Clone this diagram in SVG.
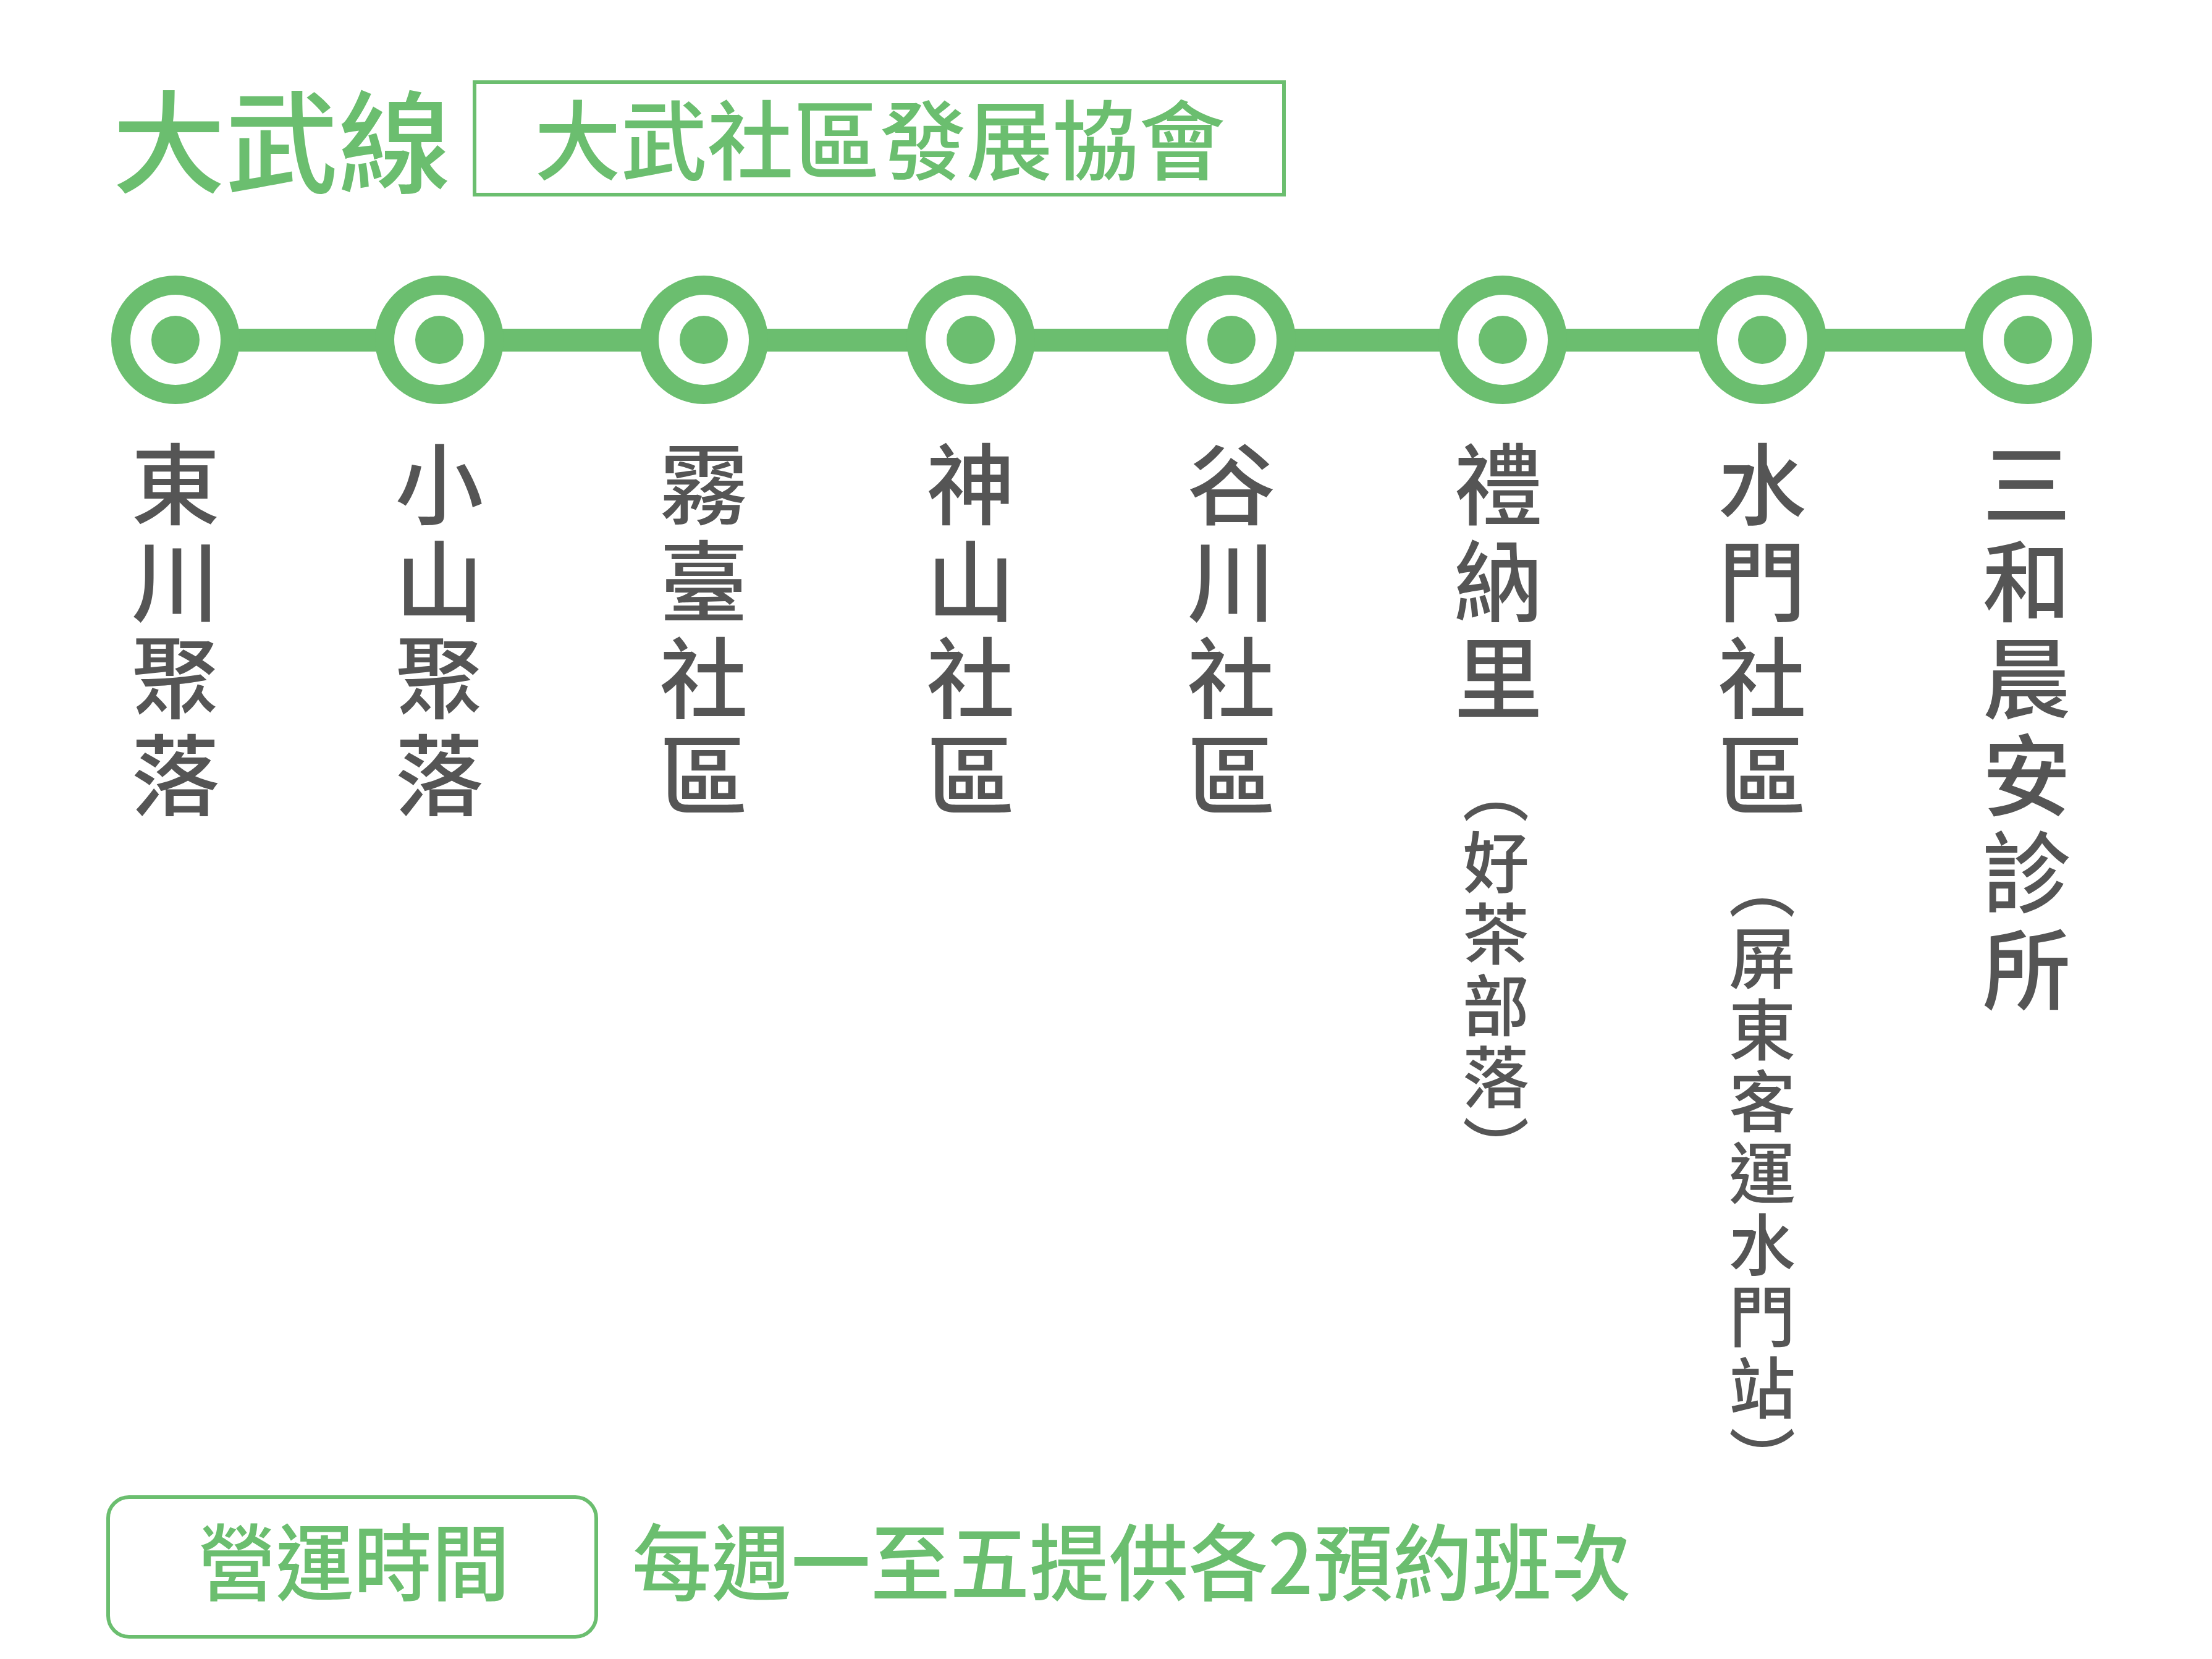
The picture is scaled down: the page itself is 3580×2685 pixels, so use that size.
<svg xmlns="http://www.w3.org/2000/svg" width="3580" height="2685" viewBox="0 0 3580 2685">
<style>
.g{fill:#6bbe6f;font-family:"Noto Sans CJK TC","Noto Sans CJK SC",sans-serif;font-weight:500}
.lab{fill:#555;font-family:"Noto Sans CJK TC","Noto Sans CJK SC",sans-serif;font-weight:500;font-size:143px;writing-mode:vertical-rl;letter-spacing:14px}
.sub{fill:#555;font-family:"Noto Sans CJK TC","Noto Sans CJK SC",sans-serif;font-weight:500;font-size:108px;writing-mode:vertical-rl;letter-spacing:8px}
.ring{fill:#6bbe6f}
.hole{fill:#fff}
</style>
<rect width="3580" height="2685" fill="#fff"/>
<g id="title">
<text class="g" x="182" y="298" font-size="180" textLength="548" lengthAdjust="spacingAndGlyphs">大武線</text>
<rect x="768" y="133" width="1310" height="182" fill="none" stroke="#6bbe6f" stroke-width="6"/>
<text class="g" x="865" y="280" font-size="140" textLength="1118" lengthAdjust="spacingAndGlyphs">大武社區發展協會</text>
</g>
<g id="connectors">
<rect x="284" y="532" width="2998" height="37" fill="#6bbe6f"/>
</g>
<g id="stations">
<g id="s1"><circle class="ring" cx="284" cy="550" r="104"/><circle class="hole" cx="284" cy="550" r="73"/><circle class="ring" cx="284" cy="550" r="39"/><text class="lab" x="284" y="712">東川聚落</text></g>
<g id="s2"><circle class="ring" cx="711" cy="550" r="104"/><circle class="hole" cx="711" cy="550" r="73"/><circle class="ring" cx="711" cy="550" r="39"/><text class="lab" x="711" y="712">小山聚落</text></g>
<g id="s3"><circle class="ring" cx="1139" cy="550" r="104"/><circle class="hole" cx="1139" cy="550" r="73"/><circle class="ring" cx="1139" cy="550" r="39"/><text class="lab" x="1139" y="712">霧臺社區</text></g>
<g id="s4"><circle class="ring" cx="1571" cy="550" r="104"/><circle class="hole" cx="1571" cy="550" r="73"/><circle class="ring" cx="1571" cy="550" r="39"/><text class="lab" x="1571" y="712">神山社區</text></g>
<g id="s5"><circle class="ring" cx="1993" cy="550" r="104"/><circle class="hole" cx="1993" cy="550" r="73"/><circle class="ring" cx="1993" cy="550" r="39"/><text class="lab" x="1993" y="712">谷川社區</text></g>
<g id="s6"><circle class="ring" cx="2432" cy="550" r="104"/><circle class="hole" cx="2432" cy="550" r="73"/><circle class="ring" cx="2432" cy="550" r="39"/><text class="lab" x="2425" y="712">禮納里</text><text class="sub" x="2421" y="1225">（好茶部落）</text></g>
<g id="s7"><circle class="ring" cx="2852" cy="550" r="104"/><circle class="hole" cx="2852" cy="550" r="73"/><circle class="ring" cx="2852" cy="550" r="39"/><text class="lab" x="2852" y="712">水門社區</text><text class="sub" x="2852" y="1380">（屏東客運水門站）</text></g>
<g id="s8"><circle class="ring" cx="3282" cy="550" r="104"/><circle class="hole" cx="3282" cy="550" r="73"/><circle class="ring" cx="3282" cy="550" r="39"/><text class="lab" x="3280" y="712">三和晨安診所</text></g>
</g>
<g id="hours">
<rect x="175" y="2423" width="790" height="226" rx="34" fill="none" stroke="#6bbe6f" stroke-width="6"/>
<text class="g" x="320" y="2580" font-size="135" textLength="505" lengthAdjust="spacingAndGlyphs">營運時間</text>
<text class="g" x="1023" y="2580" font-size="135" textLength="1617" lengthAdjust="spacingAndGlyphs">每週一至五提供各2預約班次</text>
</g>
</svg>
